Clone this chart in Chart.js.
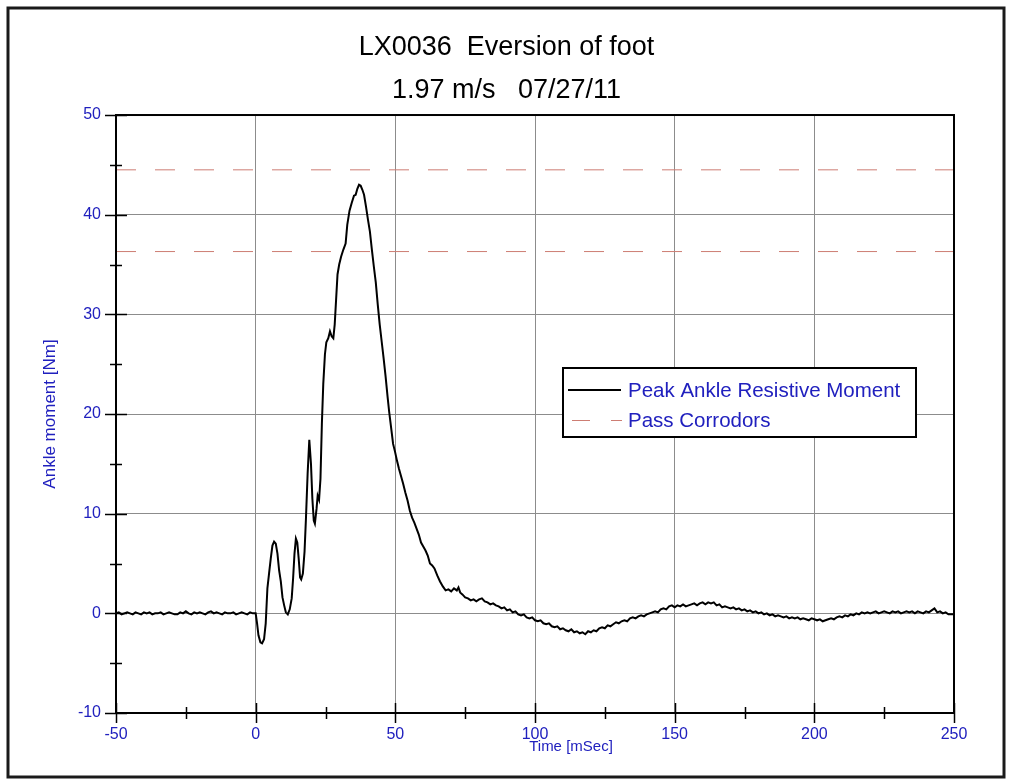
<!DOCTYPE html>
<html>
<head>
<meta charset="utf-8">
<script src="https://cdn.jsdelivr.net/npm/chart.js@4"></script>
<style>
  body { margin: 0; background: #fff; }
  #wrap { width: 1013px; height: 783px; }
</style>
</head>
<body>
<div id="wrap"><canvas id="myChart" width="1013" height="783"></canvas></div>
<script>
// pre-trigger baseline, t = -50 .. 0 ms
let baselineTime = [-50,-49,-48,-47,-46,-45,-44,-43,-42,-41,-40,-39,-38,-37,-36,-35,-34,-33,-32,-31,
  -30,-29,-28,-27,-26,-25,-24,-23,-22,-21,-20,-19,-18,-17,-16,-15,-14,-13,-12,-11,
  -10,-9,-8,-7,-6,-5,-4,-3,-2,-1,0]
let baselineMoment = [0.0,0.1,-0.1,0.0,0.1,0.0,-0.1,0.1,0.0,-0.1,0.1,0.0,0.1,-0.1,0.0,0.0,0.1,-0.1,0.0,0.1,
  0.0,-0.1,-0.1,0.1,0.0,0.2,0.0,-0.1,0.1,0.0,0.1,0.0,-0.1,0.1,0.2,0.0,0.1,0.0,-0.1,0.1,
  0.0,0.0,0.1,-0.1,0.0,0.1,0.0,-0.1,0.1,0.0,0.0]

// impact and peak
let impactTime = [0.5,1,1.7,2.3,3,3.6,4.2,4.8,5.4,6,6.6,7.2,7.8,8.4,9,9.6,10.2,10.8,11.5,12.2,
  12.9,13.4,13.9,14.4,14.9,15.4,15.9,16.3,16.9,17.5,18,18.6,19.2,19.8,20.3,20.8,21.2,21.8,22.2,22.7,
  23.2,23.7,24.2,24.8,25.3,26,26.6,27.2,27.8,28.3,28.8,29.3,29.9,30.6,31.4,32.2,32.8,33.6,34.4,35.2,
  35.8,36.4,37,37.6,38.2,38.8,39.5,40.2,40.9,41.6,42.3,43,43.7,44.4,45.1,45.8,46.5,47.2,47.8,48.5,
  49.2,49.9,50.6,51.3,52,52.8,53.6,54.4,55.2,56,56.8,57.6,58.4,59.2,60,60.8,61.6,62.4,63.2,64,
  65,66,67,68,69,70,71,72,72.6,73.2]
let impactMoment = [-1.0,-2.2,-2.9,-3.0,-2.6,-1.0,2.5,4.0,5.5,6.8,7.2,7.0,6.0,4.3,3.2,1.6,0.8,0.1,-0.1,0.4,
  1.5,3.5,6.0,7.5,7.1,5.5,3.6,3.4,4.0,6.2,9.5,14.0,17.4,15.0,11.5,9.3,9.0,10.5,11.8,11.4,
  13.5,19.0,23.0,26.0,27.2,27.6,28.3,27.8,27.6,29.0,31.5,34.0,35.0,35.8,36.5,37.1,39.0,40.4,41.2,41.9,
  42.0,42.6,43.0,42.9,42.5,42.0,40.8,39.5,38.3,36.5,34.8,33.2,31.0,29.0,27.3,25.6,23.8,21.8,20.2,18.6,
  17.0,16.2,15.3,14.5,13.8,13.0,12.1,11.3,10.3,9.6,9.1,8.5,7.9,7.1,6.7,6.3,5.8,5.0,4.8,4.5,
  3.8,3.2,2.7,2.3,2.4,2.2,2.5,2.3,2.6,2.1]

// decay and rebound, t = 74 .. 250 ms
let decayTime = [74,75,76,77,78,79,80,81,82,83,84,85,86,87,88,89,90,91,92,93,
  94,95,96,97,98,99,100,101,102,103,104,105,106,107,108,109,110,111,112,113,
  114,115,116,117,118,119,120,121,122,123,124,125,126,127,128,129,130,131,132,133,
  134,135,136,137,138,139,140,141,142,143,144,145,146,147,148,149,150,151,152,153,
  154,155,156,157,158,159,160,161,162,163,164,165,166,167,168,169,170,171,172,173,
  174,175,176,177,178,179,180,181,182,183,184,185,186,187,188,189,190,191,192,193,
  194,195,196,197,198,199,200,201,202,203,204,205,206,207,208,209,210,211,212,213,
  214,215,216,217,218,219,220,221,222,223,224,225,226,227,228,229,230,231,232,233,
  234,235,236,237,238,239,240,241,242,243,244,245,246,247,248,249,250]
let decayMoment = [1.9,1.6,1.5,1.3,1.4,1.2,1.4,1.5,1.2,1.1,0.9,1.0,0.8,0.7,0.5,0.6,0.3,0.4,0.1,0.2,
  -0.1,-0.2,-0.1,-0.4,-0.5,-0.4,-0.7,-0.8,-0.7,-1.0,-1.1,-1.0,-1.3,-1.4,-1.3,-1.6,-1.5,-1.7,-1.8,-1.6,
  -1.9,-1.8,-2.0,-1.9,-2.1,-1.8,-1.9,-1.7,-1.8,-1.5,-1.4,-1.5,-1.2,-1.3,-1.1,-0.9,-1.0,-0.8,-0.7,-0.8,
  -0.5,-0.4,-0.5,-0.3,-0.2,-0.3,-0.1,0.0,0.1,0.2,0.1,0.4,0.5,0.4,0.7,0.8,0.6,0.8,0.7,0.9,
  0.7,0.8,0.9,1.0,0.8,1.0,1.1,0.9,1.1,1.0,1.1,0.8,0.9,0.6,0.7,0.6,0.5,0.6,0.4,0.5,
  0.3,0.4,0.2,0.3,0.1,0.2,0.0,0.1,-0.1,0.0,-0.2,-0.1,-0.3,-0.2,-0.3,-0.4,-0.3,-0.5,-0.4,-0.5,
  -0.4,-0.6,-0.5,-0.6,-0.7,-0.5,-0.6,-0.7,-0.6,-0.8,-0.7,-0.6,-0.5,-0.6,-0.4,-0.3,-0.4,-0.2,-0.3,-0.1,
  -0.2,0.0,-0.1,0.1,0.0,0.1,0.0,0.1,0.2,0.0,0.1,0.2,0.1,0.0,0.2,0.1,0.2,0.0,0.1,0.2,
  0.1,0.2,0.0,0.2,0.1,0.0,0.2,0.1,0.3,0.5,0.1,0.2,0.0,0.1,-0.1,-0.1,-0.1]

// pass corridor limits
let corridorTime = [-50, 250]
let corridorUpper = 44.5
let corridorLower = 36.3

let xTickValues = [-50,-25,0,25,50,75,100,125,150,175,200,225,250]
let yTickValues = [-10,-5,0,5,10,15,20,25,30,35,40,45,50]

const blue = 'rgb(32,32,190)'
const corridorColor = 'rgb(205,125,115)'
const sans = '"Liberation Sans", Arial, sans-serif'

const allTime = baselineTime.concat(impactTime, decayTime)
const allMoment = baselineMoment.concat(impactMoment, decayMoment)
const momentPoints = allTime.map((t, i) => ({ x: t, y: allMoment[i] }))

const framePlugin = {
    id: 'frame',
    afterDraw(chart) {
        const { ctx, chartArea: a, scales: { x, y } } = chart
        ctx.save()
        // outer border of the figure
        ctx.strokeStyle = '#1a1a1a'
        ctx.lineWidth = 3
        ctx.strokeRect(8, 8, 996, 769)
        // plot frame
        ctx.strokeStyle = '#000'
        ctx.lineWidth = 2
        ctx.strokeRect(a.left, a.top, a.right - a.left, a.bottom - a.top)
        // ticks crossing the axes
        ctx.lineWidth = 1.5
        ctx.beginPath()
        xTickValues.forEach(v => {
            const px = Math.round(x.getPixelForValue(v)) + 0.5
            const len = v % 50 === 0 ? 10 : 6
            ctx.moveTo(px, a.bottom - len)
            ctx.lineTo(px, a.bottom + len)
        })
        yTickValues.forEach(v => {
            const py = Math.round(y.getPixelForValue(v)) + 0.5
            const len = v % 10 === 0 ? 11 : 6
            ctx.moveTo(a.left - len, py)
            ctx.lineTo(a.left + len, py)
        })
        ctx.stroke()

        // x axis title
        ctx.fillStyle = blue
        ctx.font = '15px ' + sans
        ctx.textAlign = 'center'
        ctx.textBaseline = 'middle'
        ctx.fillText('Time [mSec]', 571, 747)

        // legend
        const lx = 563, ly = 368, lw = 353, lh = 69
        ctx.fillStyle = '#fff'
        ctx.fillRect(lx, ly, lw, lh)
        ctx.strokeStyle = '#000'
        ctx.lineWidth = 2
        ctx.strokeRect(lx, ly, lw, lh)
        const ds = chart.data.datasets
        ctx.beginPath()
        ctx.lineWidth = 2
        ctx.strokeStyle = ds[0].borderColor
        ctx.moveTo(568, 390)
        ctx.lineTo(621, 390)
        ctx.stroke()
        ctx.beginPath()
        ctx.lineWidth = 1
        ctx.strokeStyle = ds[1].borderColor
        ctx.moveTo(572, 420.5); ctx.lineTo(590, 420.5)
        ctx.moveTo(611, 420.5); ctx.lineTo(622, 420.5)
        ctx.stroke()
        ctx.fillStyle = blue
        ctx.font = '20.5px ' + sans
        ctx.textAlign = 'left'
        ctx.fillText(ds[0].label, 628, 391)
        ctx.fillText(ds[1].label, 628, 421)
        ctx.restore()
    }
}

const data = {
    datasets: [{
        label: 'Peak Ankle Resistive Moment',
        data: momentPoints,
        borderColor: '#000',
        borderWidth: 2,
        pointRadius: 0,
        tension: 0
    }, {
        label: 'Pass Corrodors',
        data: corridorTime.map(t => ({ x: t, y: corridorUpper })),
        borderColor: corridorColor,
        borderWidth: 1,
        borderDash: [20, 19],
        pointRadius: 0
    }, {
        label: 'Pass Corrodors lower',
        data: corridorTime.map(t => ({ x: t, y: corridorLower })),
        borderColor: corridorColor,
        borderWidth: 1,
        borderDash: [20, 19],
        pointRadius: 0
    }]
}

const config = {
    type: 'line',
    data,
    plugins: [framePlugin],
    options: {
        responsive: false,
        animation: false,
        layout: { padding: 0 },
        plugins: {
            legend: { display: false },
            tooltip: { enabled: false },
            title: {
                display: true,
                text: ['LX0036  Eversion of foot', '1.97 m/s   07/27/11'],
                color: '#000',
                font: { family: sans, size: 27, weight: 'normal', lineHeight: 1.593 },
                padding: { top: 26, bottom: 3 }
            }
        },
        scales: {
            x: {
                type: 'linear',
                min: -50,
                max: 250,
                ticks: { stepSize: 50, color: blue, padding: 12, font: { family: sans, size: 16 } },
                grid: { color: '#8c8c8c', lineWidth: 1, drawTicks: false },
                border: { display: false },
                afterFit: scale => { scale.height = 70 }
            },
            y: {
                min: -10,
                max: 50,
                ticks: { stepSize: 10, color: blue, padding: 15, font: { family: sans, size: 16 } },
                grid: { color: '#8c8c8c', lineWidth: 1, drawTicks: false },
                border: { display: false },
                title: {
                    display: true,
                    text: 'Ankle moment [Nm]',
                    color: blue,
                    font: { family: sans, size: 17 },
                    padding: { top: 40, bottom: 0 }
                },
                afterFit: scale => { scale.width = 116 }
            },
            // empty right-hand margin of the plot
            yRight: {
                position: 'right',
                min: -10,
                max: 50,
                ticks: { display: false },
                grid: { drawOnChartArea: false, drawTicks: false },
                border: { display: false },
                afterFit: scale => { scale.width = 59 }
            }
        }
    }
}

var myChart = new Chart(document.getElementById('myChart'), config)
</script>
</body>
</html>
